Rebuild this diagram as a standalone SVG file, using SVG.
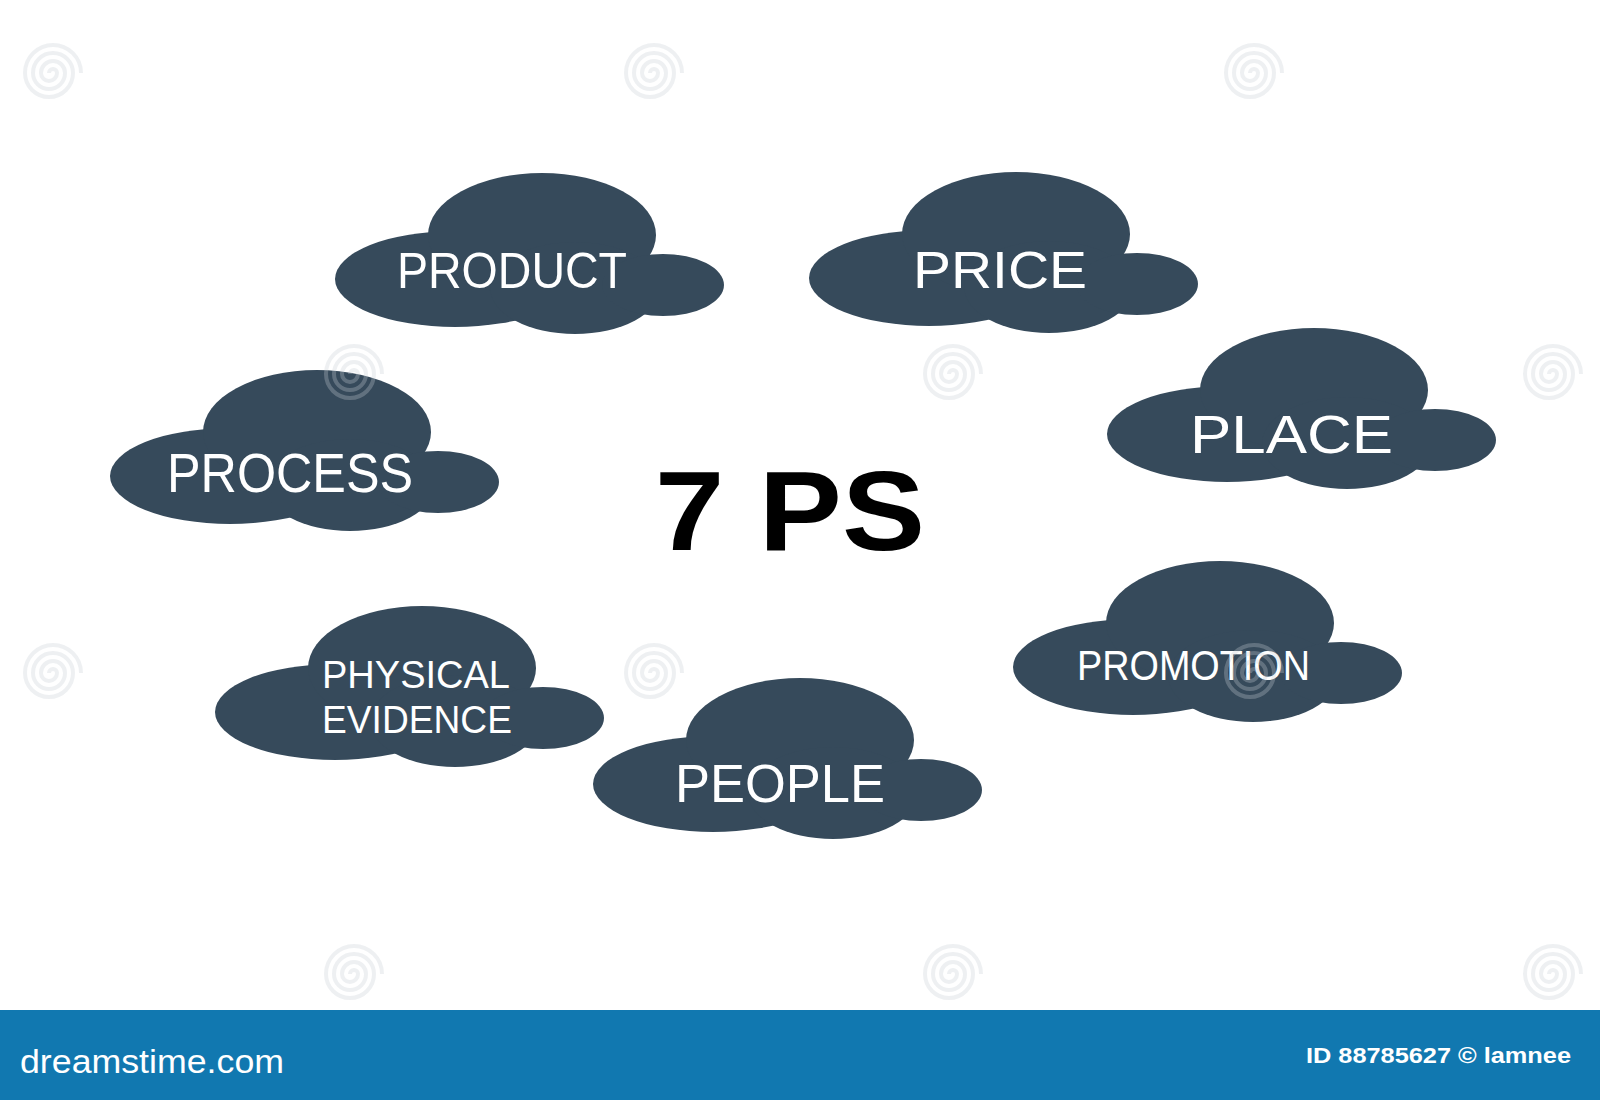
<svg xmlns="http://www.w3.org/2000/svg" width="1600" height="1100" viewBox="0 0 1600 1100">
<style>
.cloud{fill:#364a5b}
.lbl{font-family:"Liberation Sans",Arial,sans-serif;fill:#ffffff;font-weight:normal}
.title{font-family:"Liberation Sans",Arial,sans-serif;fill:#000000;font-weight:bold}
.wm{fill:none;stroke:#c8ced3;stroke-width:4;opacity:0.3}
.bar{fill:#1178b0}
.bartxt{font-family:"Liberation Sans",Arial,sans-serif;fill:#ffffff}
</style>
<defs>
<g id="cloudShape" class="cloud">
<ellipse cx="120" cy="106" rx="120" ry="48"/>
<ellipse cx="207" cy="62" rx="114" ry="62"/>
<ellipse cx="240" cy="115" rx="85" ry="46"/>
<ellipse cx="328" cy="112" rx="61" ry="31"/>
</g>
<path id="spiral" d="M0,0 A4,4 0 0 1 8,0 A8,8 0 0 1 -8,0 A12,12 0 0 1 16,0 A16,16 0 0 1 -16,0 A20,20 0 0 1 24,0 A24,24 0 0 1 -24,0 A28,28 0 0 1 32,0"/>
</defs>
<rect x="0" y="0" width="1600" height="1100" fill="#ffffff"/>

<g id="node-product">
<use href="#cloudShape" x="335" y="173"/>
<text class="lbl" x="397" y="288" font-size="50" textLength="230" lengthAdjust="spacingAndGlyphs">PRODUCT</text>
</g>
<g id="node-price">
<use href="#cloudShape" x="809" y="172"/>
<text class="lbl" x="913" y="288" font-size="52" textLength="174" lengthAdjust="spacingAndGlyphs">PRICE</text>
</g>
<g id="node-place">
<use href="#cloudShape" x="1107" y="328"/>
<text class="lbl" x="1190" y="453" font-size="54" textLength="203" lengthAdjust="spacingAndGlyphs">PLACE</text>
</g>
<g id="node-process">
<use href="#cloudShape" x="110" y="370"/>
<text class="lbl" x="167" y="492" font-size="56" textLength="246" lengthAdjust="spacingAndGlyphs">PROCESS</text>
</g>
<g id="node-promotion">
<use href="#cloudShape" x="1013" y="561"/>
<text class="lbl" x="1077" y="680" font-size="42" textLength="233" lengthAdjust="spacingAndGlyphs">PROMOTION</text>
</g>
<g id="node-physical-evidence">
<use href="#cloudShape" x="215" y="606"/>
<text class="lbl" x="322" y="688" font-size="38" textLength="188" lengthAdjust="spacingAndGlyphs">PHYSICAL</text>
<text class="lbl" x="322" y="733" font-size="38" textLength="190" lengthAdjust="spacingAndGlyphs">EVIDENCE</text>
</g>
<g id="node-people">
<use href="#cloudShape" x="593" y="678"/>
<text class="lbl" x="675" y="802" font-size="54" textLength="210" lengthAdjust="spacingAndGlyphs">PEOPLE</text>
</g>
<g id="node-center">
<text class="title" x="655" y="550" font-size="114" textLength="270" lengthAdjust="spacingAndGlyphs">7 PS</text>
</g>
<g id="connectors"></g>

<g id="watermark">
<use href="#spiral" class="wm" x="49" y="73"/>
<use href="#spiral" class="wm" x="650" y="73"/>
<use href="#spiral" class="wm" x="1250" y="73"/>
<use href="#spiral" class="wm" x="350" y="374"/>
<use href="#spiral" class="wm" x="949" y="374"/>
<use href="#spiral" class="wm" x="1549" y="374"/>
<use href="#spiral" class="wm" x="49" y="673"/>
<use href="#spiral" class="wm" x="650" y="673"/>
<use href="#spiral" class="wm" x="1250" y="673"/>
<use href="#spiral" class="wm" x="350" y="974"/>
<use href="#spiral" class="wm" x="949" y="974"/>
<use href="#spiral" class="wm" x="1549" y="974"/>
</g>

<g id="footer">
<rect class="bar" x="0" y="1010" width="1600" height="90"/>
<text class="bartxt" x="20" y="1073" font-size="34" textLength="264" lengthAdjust="spacingAndGlyphs">dreamstime.com</text>
<text class="bartxt" x="1306" y="1063" font-size="22" font-weight="bold" textLength="265" lengthAdjust="spacingAndGlyphs">ID 88785627 © lamnee</text>
</g>
</svg>
